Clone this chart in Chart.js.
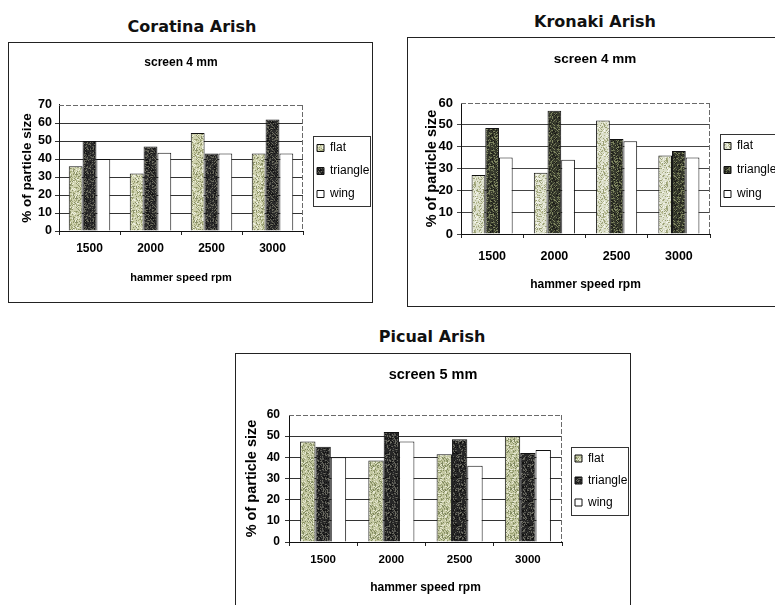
<!DOCTYPE html>
<html><head><meta charset="utf-8">
<script src="https://cdn.jsdelivr.net/npm/chart.js@4.4.1/dist/chart.umd.min.js"></script>
<style>
body{margin:0;background:#fff;width:775px;height:605px;overflow:hidden;position:relative}
.frame{position:absolute;border:1px solid #222;background:#fff}
.frame canvas{display:block}
.big{position:absolute;font:bold 16px 'DejaVu Sans',sans-serif;color:#111;white-space:nowrap;transform:translateX(-50%);line-height:20px}
</style></head><body>
<div class="big" style="left:192px;top:17px">Coratina Arish</div>
<div class="big" style="left:595px;top:12px">Kronaki Arish</div>
<div class="big" style="left:432px;top:327px">Picual Arish</div>
<div class="frame" style="left:8px;top:42px;width:363px;height:259px"><canvas id="c1" width="363" height="259"></canvas></div>
<div class="frame" style="left:407px;top:37px;width:374px;height:268px"><canvas id="c2" width="374" height="268"></canvas></div>
<div class="frame" style="left:235px;top:353px;width:394px;height:260px"><canvas id="c3" width="394" height="260"></canvas></div>
<script>
// ---- data ----
const categories = ['1500', '2000', '2500', '3000'];
const seriesNames = ['flat', 'triangle', 'wing'];
const yTitle = '% of particle size';
const xTitle = 'hammer speed rpm';

const coratinaFlat = [36, 32, 54.5, 43];
const coratinaTriangle = [50, 47, 43, 62];
const coratinaWing = [40, 43.5, 43, 43];

const kronakiFlat = [27, 28, 52, 36];
const kronakiTriangle = [48.5, 56.5, 43.5, 38];
const kronakiWing = [35, 34, 42.5, 35];

const picualFlat = [47.5, 38.5, 41.5, 50];
const picualTriangle = [45, 52, 48.5, 42];
const picualWing = [40, 47.5, 36, 43.5];

// ---- styles ----
const F = "'Liberation Sans', Arial, sans-serif";

function speckle(base, spots, seed) {
  const c = document.createElement('canvas');
  c.width = 24; c.height = 24;
  const g = c.getContext('2d');
  g.fillStyle = base; g.fillRect(0, 0, 24, 24);
  for (let y = 0; y < 24; y++) for (let x = 0; x < 24; x++) {
    let h = (Math.imul(x, 374761393) + Math.imul(y, 668265263) + Math.imul(seed, 982451653)) >>> 0;
    h = Math.imul(h ^ (h >>> 13), 1274126177) >>> 0;
    h = (h ^ (h >>> 16)) >>> 0;
    const v = (h & 1023) / 1024;
    const k = Math.floor(v / 0.14);
    if (k < spots.length) { g.fillStyle = spots[k]; g.fillRect(x, y, 1, 1); }
  }
  return g.createPattern(c, 'repeat');
}

const flatFillA = speckle('#cfd2ae', ['#a2a878', '#8a9068', '#eef0de'], 1);
const triFillA = speckle('#2a2a2a', ['#58584f', '#121212', '#6e6e60'], 2);
const flatFillB = speckle('#dcdfca', ['#b4b88e', '#9aa076', '#f2f3e8'], 3);
const triFillB = speckle('#36392c', ['#6a7050', '#1a1a16', '#7f8660'], 4);
const flatFillC = speckle('#c4c8a2', ['#98a070', '#7f8860', '#e6e8d2'], 5);
const triFillC = speckle('#262626', ['#555550', '#101010', '#6a6a60'], 6);

const legendBox = {
  id: 'legendBox',
  afterDraw(chart) {
    const lg = chart.legend;
    if (!lg || !lg.legendHitBoxes || !lg.legendHitBoxes.length) return;
    const hb = lg.legendHitBoxes;
    const pad = lg.options.labels.padding;
    const ctx = chart.ctx;
    const l = lg.left + pad - 4, r = lg.right - 2;
    const t = hb[0].top - 6, b = hb[hb.length - 1].top + hb[hb.length - 1].height + 6;
    ctx.save();
    ctx.strokeStyle = '#333'; ctx.lineWidth = 1;
    ctx.strokeRect(Math.round(l) + 0.5, Math.round(t) + 0.5, Math.round(r - l), Math.round(b - t));
    ctx.restore();
  }
};

const plotFrame = {
  id: 'plotFrame',
  afterDatasetsDraw(chart) {
    const a = chart.chartArea, ctx = chart.ctx;
    ctx.save();
    ctx.strokeStyle = '#6a6a6a'; ctx.lineWidth = 1; ctx.setLineDash([5, 2]);
    ctx.beginPath();
    ctx.moveTo(a.left, Math.round(a.top) + 0.5); ctx.lineTo(a.right, Math.round(a.top) + 0.5);
    ctx.moveTo(Math.round(a.right) - 0.5, a.top); ctx.lineTo(Math.round(a.right) - 0.5, a.bottom);
    ctx.stroke();
    ctx.restore();
  }
};

function makeChart(id, g) {
  return new Chart(document.getElementById(id), {
    type: 'bar',
    data: {
      labels: categories,
      datasets: [
        { label: seriesNames[0], data: g.flat, backgroundColor: g.flatFill },
        { label: seriesNames[1], data: g.tri, backgroundColor: g.triFill },
        { label: seriesNames[2], data: g.wing, backgroundColor: '#ffffff' }
      ].map(d => Object.assign(d, {
        borderColor: '#111', borderWidth: 1,
        categoryPercentage: g.catPct, barPercentage: 1
      }))
    },
    options: {
      responsive: false,
      animation: false,
      layout: { padding: 0 },
      plugins: {
        title: {
          display: true, text: g.sub, color: '#000', fullSize: g.titleFull,
          font: { family: F, size: g.subSize, weight: 'bold' },
          padding: { top: g.subTop, bottom: g.subBottom }
        },
        legend: {
          display: true, position: 'right', fullSize: false, maxWidth: g.legW,
          title: { display: true, text: ' ', font: { size: 1 }, padding: { top: g.legShift, bottom: 0 } },
          labels: {
            boxWidth: 7, boxHeight: 7, padding: g.legPad, color: '#000',
            font: { family: F, size: 12 }
          }
        },
        tooltip: { enabled: false }
      },
      scales: {
        x: {
          grid: { display: true, drawOnChartArea: false, tickLength: 4, color: '#222', offset: true },
          border: { display: true, color: '#111', width: 1 },
          ticks: { color: '#000', maxRotation: 0, autoSkip: false, padding: g.xtPad,
                   font: { family: F, size: g.tickSize, weight: g.tickWeight } },
          title: { display: true, text: xTitle, color: '#000',
                   font: { family: F, size: g.xTitleSize, weight: 'bold' },
                   padding: { top: 0, bottom: g.xTitleBottom } },
          afterFit: s => { s.height = g.xH; }
        },
        y: {
          min: 0, max: g.max,
          grid: {
            tickLength: 4,
            color: c => (c.tick && c.tick.value === g.max) ? 'rgba(0,0,0,0)' : g.gridColor
          },
          border: { display: true, color: '#111', width: 1 },
          ticks: { stepSize: 10, color: '#000', padding: g.ytPad,
                   font: { family: F, size: g.yTickSize, weight: g.tickWeight } },
          title: { display: true, text: yTitle, color: '#000',
                   font: { family: F, size: g.yTitleSize, weight: 'bold' },
                   padding: { top: g.yTitleTop, bottom: 0 } },
          afterFit: s => { s.width = g.yW; }
        },
        gap: {
          type: 'linear', position: 'right', display: true,
          grid: { display: false }, ticks: { display: false }, border: { display: false },
          afterFit: s => { s.width = g.gap; }
        }
      }
    },
    plugins: [legendBox, plotFrame]
  });
}

makeChart('c1', {
  flat: coratinaFlat, tri: coratinaTriangle, wing: coratinaWing,
  flatFill: flatFillA, triFill: triFillA, catPct: 0.68, max: 70,
  sub: 'screen 4 mm', subSize: 12, subTop: 12.8, subBottom: 34.8, titleFull: false,
  legW: 66, legPad: 11, legShift: 4.8, gap: 3,
  tickSize: 12, yTickSize: 12.5, tickWeight: 'bold', xtPad: 6.5, ytPad: 3,
  xTitleSize: 11, xTitleBottom: 17.4, xH: 71,
  yTitleSize: 13.5, yTitleTop: 9.9, yW: 50, gridColor: '#333'
});

makeChart('c2', {
  flat: kronakiFlat, tri: kronakiTriangle, wing: kronakiWing,
  flatFill: flatFillB, triFill: triFillB, catPct: 0.66, max: 60,
  sub: 'screen 4 mm', subSize: 13.5, subTop: 12.9, subBottom: 35.9, titleFull: true,
  legW: 70, legPad: 12, legShift: 1.8, gap: 2,
  tickSize: 12.5, yTickSize: 13, tickWeight: 'bold', xtPad: 11.5, ytPad: 4,
  xTitleSize: 12, xTitleBottom: 13.8, xH: 72,
  yTitleSize: 14.5, yTitleTop: 15.3, yW: 53, gridColor: '#444'
});

makeChart('c3', {
  flat: picualFlat, tri: picualTriangle, wing: picualWing,
  flatFill: flatFillC, triFill: triFillC, catPct: 0.675, max: 60,
  sub: 'screen 5 mm', subSize: 14.5, subTop: 12.3, subBottom: 31.3, titleFull: true,
  legW: 65, legPad: 10, legShift: 2.8, gap: 3,
  tickSize: 11.5, yTickSize: 12, tickWeight: 'bold', xtPad: 7.1, ytPad: 5,
  xTitleSize: 12, xTitleBottom: 18.8, xH: 72,
  yTitleSize: 14.5, yTitleTop: 7.3, yW: 53, gridColor: '#333'
});
</script>
</body></html>
